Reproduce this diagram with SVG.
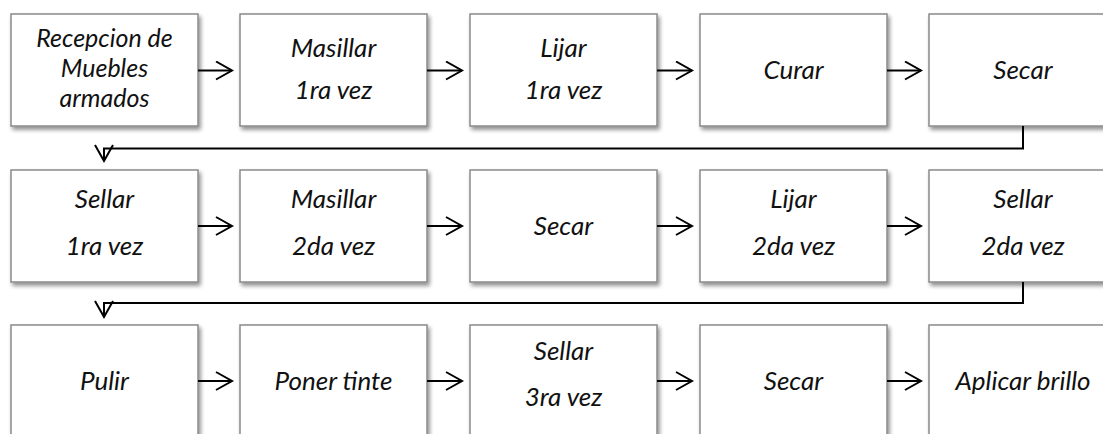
<svg xmlns="http://www.w3.org/2000/svg" width="1103" height="434" viewBox="0 0 1103 434">
<defs>
<filter id="sh" x="-10%" y="-10%" width="130%" height="130%">
<feGaussianBlur in="SourceAlpha" stdDeviation="2"/>
<feOffset dx="2" dy="3" result="b"/>
<feComponentTransfer><feFuncA type="linear" slope="0.45"/></feComponentTransfer>
<feMerge><feMergeNode/><feMergeNode in="SourceGraphic"/></feMerge>
</filter>
<marker id="ah" markerWidth="20" markerHeight="20" refX="17" refY="10" orient="auto" markerUnits="userSpaceOnUse">
<path d="M1,1 L17,10 L1,19" fill="none" stroke="#000" stroke-width="2"/>
</marker>
</defs>
<style>
.box{fill:#fff;stroke:#8a8a8a;stroke-width:1.5;filter:url(#sh)}
.t{font-family:Lato,"Open Sans",sans-serif;font-style:italic;font-size:26px;fill:#111;text-anchor:middle}
.t3{font-size:25px}
.ca{fill:none;stroke:#000;stroke-width:2;marker-end:url(#ah)}
</style>
<rect width="1103" height="434" fill="#fff"/>

<g id="n1"><rect class="box" x="11" y="14" width="187" height="112"/><text class="t t3" x="104.5" y="47">Recepcion de</text><text class="t t3" x="104.5" y="77">Muebles</text><text class="t t3" x="104.5" y="107">armados</text></g>
<g id="n2"><rect class="box" x="240" y="14" width="187" height="112"/><text class="t" x="333.5" y="57">Masillar</text><text class="t" x="333.5" y="99">1ra vez</text></g>
<g id="n3"><rect class="box" x="470" y="14" width="187" height="112"/><text class="t" x="563.5" y="57">Lijar</text><text class="t" x="563.5" y="99">1ra vez</text></g>
<g id="n4"><rect class="box" x="700" y="14" width="187" height="112"/><text class="t" x="793.5" y="79">Curar</text></g>
<g id="n5"><rect class="box" x="929" y="14" width="188" height="112"/><text class="t" x="1023" y="79">Secar</text></g>

<g id="n6"><rect class="box" x="11" y="170" width="187" height="112"/><text class="t" x="104.5" y="208">Sellar</text><text class="t" x="104.5" y="255">1ra vez</text></g>
<g id="n7"><rect class="box" x="240" y="170" width="187" height="112"/><text class="t" x="333.5" y="208">Masillar</text><text class="t" x="333.5" y="255">2da vez</text></g>
<g id="n8"><rect class="box" x="470" y="170" width="187" height="112"/><text class="t" x="563.5" y="235">Secar</text></g>
<g id="n9"><rect class="box" x="700" y="170" width="187" height="112"/><text class="t" x="793.5" y="208">Lijar</text><text class="t" x="793.5" y="255">2da vez</text></g>
<g id="n10"><rect class="box" x="929" y="170" width="188" height="112"/><text class="t" x="1023" y="208">Sellar</text><text class="t" x="1023" y="255">2da vez</text></g>

<g id="n11"><rect class="box" x="11" y="325" width="187" height="112"/><text class="t" x="104.5" y="390">Pulir</text></g>
<g id="n12"><rect class="box" x="240" y="325" width="187" height="112"/><text class="t" x="333.5" y="390">Poner tinte</text></g>
<g id="n13"><rect class="box" x="470" y="325" width="187" height="112"/><text class="t" x="563.5" y="360">Sellar</text><text class="t" x="563.5" y="406">3ra vez</text></g>
<g id="n14"><rect class="box" x="700" y="325" width="187" height="112"/><text class="t" x="793.5" y="390">Secar</text></g>
<g id="n15"><rect class="box" x="929" y="325" width="188" height="112"/><text class="t" x="1023" y="390">Aplicar brillo</text></g>

<g id="connectors">
<path class="ca" d="M198,70.5 H232"/>
<path class="ca" d="M427,70.5 H462"/>
<path class="ca" d="M657,70.5 H692"/>
<path class="ca" d="M887,70.5 H921"/>
<path class="ca" d="M1023,126 V148.5 H104 V161"/>
<path class="ca" d="M198,226 H232"/>
<path class="ca" d="M427,226 H462"/>
<path class="ca" d="M657,226 H692"/>
<path class="ca" d="M887,226 H921"/>
<path class="ca" d="M1023,282 V303 H104 V317"/>
<path class="ca" d="M198,381 H232"/>
<path class="ca" d="M427,381 H462"/>
<path class="ca" d="M657,381 H692"/>
<path class="ca" d="M887,381 H921"/>
</g>
</svg>
